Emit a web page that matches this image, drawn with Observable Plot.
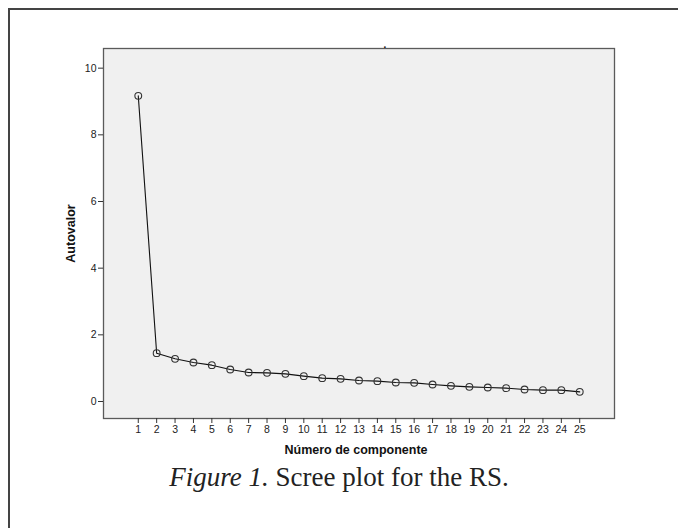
<!DOCTYPE html>
<html>
<head>
<meta charset="utf-8">
<script src="https://cdn.jsdelivr.net/npm/d3@7"></script>
<script src="https://cdn.jsdelivr.net/npm/@observablehq/plot@0.6"></script>
<style>
  html, body { margin: 0; padding: 0; background: #fff; width: 678px; height: 528px; overflow: hidden; }
  #wrap { position: relative; width: 678px; height: 528px; }
  #frame { position: absolute; left: 8px; top: 8px; width: 680px; height: 530px; border-top: 2px solid #444; border-left: 2px solid #444; }
  #chart { position: absolute; left: 0; top: 0; }
  #caption { position: absolute; left: 0; width: 678px; top: 464px; line-height: 1; text-align: center;
             font-family: "Liberation Serif", serif; font-size: 27px; color: #222; }
</style>
</head>
<body>
<div id="wrap">
  <div id="frame"></div>
  <div id="chart"></div>
  <div id="caption"><i>Figure 1.</i> Scree plot for the RS.</div>
</div>
<script>
const components = [1,2,3,4,5,6,7,8,9,10,11,12,13,14,15,16,17,18,19,20,21,22,23,24,25];
const eigenvalues = [9.17,1.45,1.28,1.17,1.09,0.96,0.87,0.86,0.83,0.76,0.70,0.68,0.63,0.61,0.57,0.56,0.51,0.47,0.44,0.42,0.40,0.36,0.34,0.34,0.29];
const yTicks = [0,2,4,6,8,10];
const xLabel = "Número de componente";
const yLabel = "Autovalor";

const data = components.map((c, i) => ({c, v: eigenvalues[i]}));

const plot = Plot.plot({
  width: 678,
  height: 470,
  marginLeft: 103,
  marginRight: 64,
  marginTop: 48,
  marginBottom: 52,
  style: {fontFamily: "'Liberation Sans', Arial, sans-serif", fontSize: "10px", color: "#222", background: "transparent"},
  x: {domain: [-0.89, 26.89], label: null},
  y: {domain: [-0.51, 10.59], label: null},
  marks: [
    Plot.frame({fill: "#f0f0f0", stroke: "#5a5a5a", strokeWidth: 1.3}),
    Plot.axisX(components, {tickSize: 5, tickPadding: 2, tickFormat: d => String(d), fontSize: 10.5, stroke: "#333"}),
    Plot.axisY(yTicks, {tickSize: 5, tickPadding: 2, tickFormat: d => String(d), fontSize: 10.5, stroke: "#333"}),
    Plot.line(data, {x: "c", y: "v", stroke: "#111", strokeWidth: 1.1}),
    Plot.dot(data, {x: "c", y: "v", r: 3.4, stroke: "#333", strokeWidth: 1.1, fill: "none"}),
    Plot.text([yLabel], {frameAnchor: "left", text: d => d, rotate: -90, dx: -33, textAnchor: "middle", fontWeight: "bold", fontSize: 12.5, fill: "#111"}),
    Plot.text([xLabel], {frameAnchor: "bottom", text: d => d, dy: 35, dx: -3, textAnchor: "middle", fontWeight: "bold", fontSize: 12.5, fill: "#111"}),
    Plot.text(["."], {frameAnchor: "top", text: d => d, dx: 26, dy: -1, lineAnchor: "bottom", fontSize: 10, fontWeight: "bold", fill: "#111"})
  ]
});
document.getElementById("chart").appendChild(plot);
</script>
</body>
</html>
